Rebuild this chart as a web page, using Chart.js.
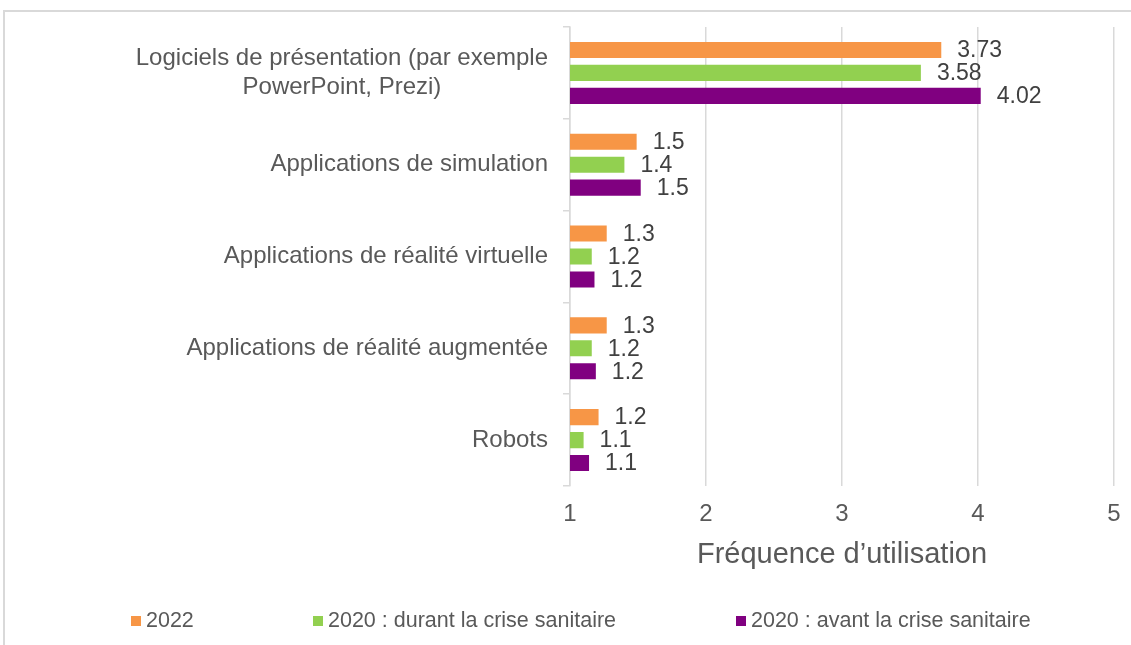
<!DOCTYPE html>
<html>
<head>
<meta charset="utf-8">
<script src="https://cdn.jsdelivr.net/npm/chart.js@4.4.1/dist/chart.umd.min.js"></script>
<style>
    html, body { margin: 0; padding: 0; background: #fff; }
    #wrap { position: relative; width: 1131px; height: 645px; overflow: hidden; }
    #frame { position: absolute; left: 3px; top: 10px; right: -10px; bottom: -10px;
             border-top: 2px solid #d9d9d9; border-left: 2px solid #d9d9d9; }
    #legend { position: absolute; left: 0; top: 607px; width: 1131px; height: 26px;
              font-family: "Liberation Sans", Arial, sans-serif; font-size: 21.5px; color: #595959; }
    .item { position: absolute; top: 0; white-space: nowrap; line-height: 26px; }
    .box { display: inline-block; width: 10px; height: 10px; margin-right: 5px; vertical-align: 1px; }
</style>
</head>
<body>
<div id="wrap">
    <div id="frame"></div>
    <canvas id="myChart" width="1131" height="645"></canvas>
    <div id="legend"></div>
</div>
<script>
const categories = [
    ['Logiciels de présentation (par exemple', 'PowerPoint, Prezi)'],
    'Applications de simulation',
    'Applications de réalité virtuelle',
    'Applications de réalité augmentée',
    'Robots'
];
const seriesNames = ['2022', '2020 : durant la crise sanitaire', '2020 : avant la crise sanitaire'];
const values2022 = [3.73, 1.49, 1.27, 1.27, 1.21];
const valuesDuring = [3.58, 1.40, 1.16, 1.16, 1.10];
const valuesBefore = [4.02, 1.52, 1.18, 1.19, 1.14];
const labelDecimals = [2, 1, 1, 1, 1];
const xTicks = [1, 2, 3, 4, 5];

const colors = ['#f79646', '#92d050', '#800080'];
const legendLeft = [131, 313, 736];
const font = '"Liberation Sans", Arial, sans-serif';

// value labels to the right of each bar
const barLabels = {
    id: 'barLabels',
    afterDatasetsDraw(chart) {
        const c = chart.ctx;
        c.save();
        c.font = '23px ' + font;
        c.fillStyle = '#404040';
        c.textAlign = 'left';
        c.textBaseline = 'middle';
        chart.data.datasets.forEach((ds, i) => {
            chart.getDatasetMeta(i).data.forEach((bar, j) => {
                c.fillText(ds.data[j].toFixed(labelDecimals[j]), bar.x + 16, bar.y + 1);
            });
        });
        c.restore();
    }
};

// centre the second line of the first label under the first line
function centreLines(lbl) {
    if (!Array.isArray(lbl)) return lbl;
    const m = document.createElement('canvas').getContext('2d');
    m.font = '24px ' + font;
    const w0 = m.measureText(lbl[0]).width;
    const w1 = m.measureText(lbl[1]).width;
    const sp = m.measureText(' ').width;
    return [lbl[0], lbl[1] + ' '.repeat(Math.round((w0 - w1) / 2 / sp))];
}

const ctx = document.getElementById('myChart');
new Chart(ctx, {
    type: 'bar',
    data: {
        labels: categories.map(centreLines),
        datasets: [values2022, valuesDuring, valuesBefore].map((d, i) => ({
            label: seriesNames[i],
            data: d,
            backgroundColor: colors[i],
            borderWidth: 0,
            categoryPercentage: 0.75,
            barPercentage: 0.7
        }))
    },
    options: {
        indexAxis: 'y',
        responsive: false,
        animation: false,
        layout: { padding: { top: 27, right: 17, bottom: 73, left: 0 } },
        plugins: {
            legend: { display: false },
            tooltip: { enabled: false }
        },
        scales: {
            x: {
                min: 1,
                max: 5,
                afterBuildTicks: (s) => { s.ticks = xTicks.map(v => ({ value: v })); },
                afterFit: (s) => { s.height = 86; s.paddingLeft = 0; s.paddingRight = 0; },
                ticks: { color: '#595959', font: { family: font, size: 24 }, padding: 14 },
                grid: { color: '#d9d9d9', lineWidth: 1.5, drawTicks: false },
                border: { display: false },
                title: {
                    display: true,
                    text: 'Fréquence d’utilisation',
                    color: '#595959',
                    font: { family: font, size: 29 },
                    padding: 0
                }
            },
            y: {
                afterFit: (s) => { s.width = 570; s.paddingTop = 0; s.paddingBottom = 0; },
                ticks: {
                    color: '#595959',
                    font: { family: font, size: 24, lineHeight: 1.17 },
                    padding: 15
                },
                grid: { drawOnChartArea: false, color: '#d9d9d9', tickLength: 7, lineWidth: 1.5 },
                border: { color: '#d9d9d9', width: 1.5 }
            }
        }
    },
    plugins: [barLabels]
});

// legend as html, spaced like the original
const legend = document.getElementById('legend');
seriesNames.forEach((name, i) => {
    const item = document.createElement('div');
    item.className = 'item';
    item.style.left = legendLeft[i] + 'px';
    item.innerHTML = '<span class="box" style="background:' + colors[i] + '"></span>' + name;
    legend.appendChild(item);
});
</script>
</body>
</html>
